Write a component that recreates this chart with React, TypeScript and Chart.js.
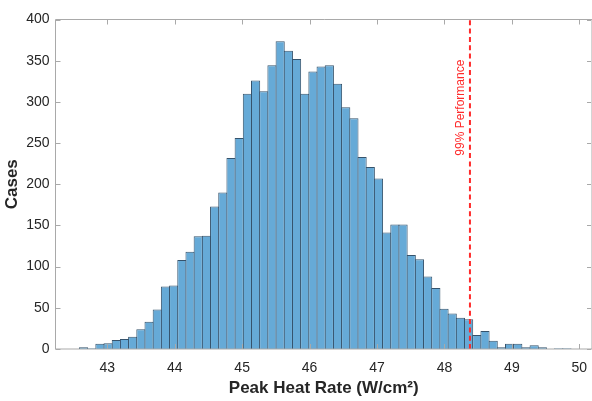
import { useEffect, useRef } from "react";
import { Chart, registerables } from "chart.js";

Chart.register(...registerables);

// ---- data ----
const binStart = 42.587; // left edge of first bin (W/cm^2)
const binWidth = 0.1215;
const counts = [
  2, 1, 6.5, 7, 11, 12, 15, 24, 33, 48,
  76, 77, 108, 118, 137, 137.5, 173, 190, 232, 256,
  310, 326, 313, 344.5, 373.6, 362, 352, 310, 337, 343,
  344.5, 322, 293.6, 280, 233, 221, 207, 141.5, 151, 151,
  114, 109, 88, 74, 49, 43, 38, 36, 17, 22,
  10, 2, 6.5, 6.5, 2, 4.5, 2, 0, 1, 1,
];
const xTicks = [43, 44, 45, 46, 47, 48, 49, 50];
const yTicks = [0, 50, 100, 150, 200, 250, 300, 350, 400];
const threshold = 48.378;
const thresholdLabel = "99% Performance";
const thresholdLabelY = 293;
const xTitle = "Peak Heat Rate (W/cm\u00B2)";
const yTitle = "Cases";

const FONT = '"Liberation Sans", Arial, Helvetica, sans-serif';
const TEXT = "#262626";
const AXIS = "#a9a9a9";

export default function App() {
  const ref = useRef<HTMLCanvasElement | null>(null);

  useEffect(() => {
    document.body.style.margin = "0";
    const canvas = ref.current;
    if (!canvas) return;

    const overlay = {
      id: "overlay",
      afterDatasetsDraw(chart: any) {
        const { ctx, chartArea, scales } = chart;
        const { left, right, top, bottom } = chartArea;
        const x = scales.x;
        const y = scales.y;
        ctx.save();
        // threshold line
        const tx = x.getPixelForValue(threshold);
        ctx.strokeStyle = "#ff2a2a";
        ctx.lineWidth = 2;
        ctx.setLineDash([5, 3.3]);
        ctx.beginPath();
        ctx.moveTo(tx, bottom);
        ctx.lineTo(tx, top);
        ctx.stroke();
        ctx.setLineDash([]);
        // label
        ctx.save();
        ctx.translate(tx - 9.5, y.getPixelForValue(thresholdLabelY));
        ctx.rotate(-Math.PI / 2);
        ctx.fillStyle = "#ff2a2a";
        ctx.font = `12px ${FONT}`;
        ctx.textAlign = "center";
        ctx.textBaseline = "middle";
        ctx.fillText(thresholdLabel, 0, 0);
        ctx.restore();
        // box
        ctx.strokeStyle = AXIS;
        ctx.lineWidth = 1;
        ctx.beginPath();
        ctx.moveTo(left, top);
        ctx.lineTo(right + 1, top);
        ctx.moveTo(left, top);
        ctx.lineTo(left, bottom);
        ctx.lineTo(right + 1, bottom);
        ctx.moveTo(right, top);
        ctx.lineTo(right, bottom);
        ctx.stroke();
        // ticks (inward)
        ctx.beginPath();
        xTicks.forEach((v) => {
          const px = Math.round(x.getPixelForValue(v)) + 0.5;
          ctx.moveTo(px, bottom);
          ctx.lineTo(px, bottom - 5);
          ctx.moveTo(px, top);
          ctx.lineTo(px, top + 5);
        });
        yTicks.forEach((v) => {
          const py = Math.round(y.getPixelForValue(v)) + 0.5;
          ctx.moveTo(left, py);
          ctx.lineTo(left + 5, py);
          ctx.moveTo(right - 1, py);
          ctx.lineTo(right - 5, py);
        });
        ctx.stroke();
        ctx.restore();
      },
    };

    const chart = new Chart(canvas, {
      type: "bar",
      data: {
        datasets: [
          {
            data: counts.map((c, i) => ({ x: binStart + (i + 0.5) * binWidth, y: c })),
            backgroundColor: "#66aad7",
            borderColor: "#36536c",
            borderWidth: 1,
            borderSkipped: "start",
            barPercentage: 1.12,
            categoryPercentage: 1,
          },
        ],
      },
      options: {
        responsive: false,
        animation: false,
        layout: { padding: { top: 19.5, right: 0, bottom: 0, left: 0 } },
        plugins: { legend: { display: false }, tooltip: { enabled: false } },
        scales: {
          x: {
            type: "linear",
            offset: false,
            min: 42.232,
            max: 50.188,
            grid: { display: false, drawTicks: false, offset: false },
            border: { display: false },
            afterBuildTicks: (s: any) => {
              s.ticks = xTicks.map((v) => ({ value: v }));
            },
            afterFit: (s: any) => {
              s.height = 52;
              s.paddingLeft = 0;
              s.paddingRight = 0;
            },
            ticks: {
              color: TEXT,
              font: { family: FONT, size: 14 },
              padding: 11,
              maxRotation: 0,
              autoSkip: false,
            },
            title: {
              display: true,
              text: xTitle,
              color: TEXT,
              font: { family: FONT, size: 17, weight: "bold" },
              padding: { top: 0, bottom: 2.3 },
            },
          },
          y: {
            min: 0,
            max: 400,
            grid: { display: false, drawTicks: false },
            border: { display: false },
            afterBuildTicks: (s: any) => {
              s.ticks = yTicks.map((v) => ({ value: v }));
            },
            afterFit: (s: any) => {
              s.width = 55.5;
            },
            ticks: {
              color: TEXT,
              font: { family: FONT, size: 14 },
              padding: 6,
              autoSkip: false,
            },
            title: {
              display: true,
              text: yTitle,
              color: TEXT,
              font: { family: FONT, size: 17, weight: "bold" },
              padding: { top: 2.5, bottom: 0 },
            },
          },
        },
      },
      plugins: [overlay],
    } as any);

    return () => chart.destroy();
  }, []);

  return (
    <div style={{ width: 592, height: 401, background: "#fff" }}>
      <canvas ref={ref} width={592} height={401} style={{ display: "block" }} />
    </div>
  );
}
